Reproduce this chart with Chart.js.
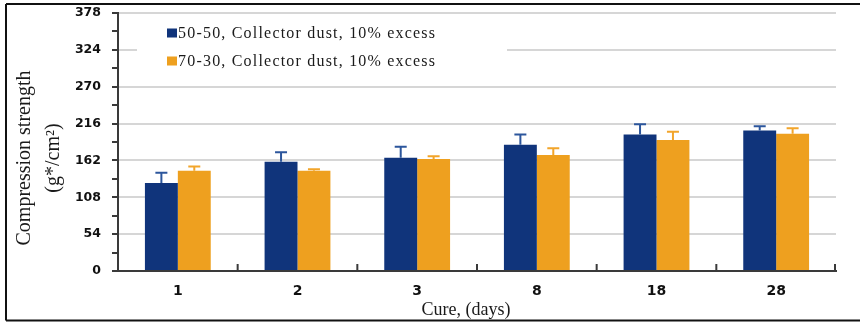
<!DOCTYPE html>
<html>
<head>
<meta charset="utf-8">
<script src="https://cdn.jsdelivr.net/npm/chart.js@4/dist/chart.umd.min.js"></script>
<style>
  html, body { margin: 0; padding: 0; background: #fff; }
  #wrap { width: 860px; height: 322px; }
</style>
</head>
<body>
<div id="wrap"><canvas id="c" width="860" height="322"></canvas></div>
<script>
// Curing time categories (days)
const cureDays = ['1', '2', '3', '8', '18', '28'];

// Series names
const seriesLabels = [
  '50-50, Collector dust, 10% excess',
  '70-30, Collector dust, 10% excess'
];

// Compression strength means and upper error (g*/cm²)
const strength5050 = [129, 160, 166, 185, 200, 206];
const error5050    = [15, 14, 16, 15, 15, 6];
const strength7030 = [147, 147, 164, 170, 192, 201];
const error7030    = [6, 2, 4, 10, 12, 8];

// Axis ticks
const yMajorTicks = [0, 54, 108, 162, 216, 270, 324, 378];
const yMinorStep = 27;

const axisTitleX = 'Cure, (days)';
const axisTitleY = ['Compression strength', '(g*/cm²)'];

const BLUE = '#10347b';
const ORANGE = '#eea01f';

// Page background and outer frame
const frame = {
  id: 'frame',
  beforeDraw(chart) {
    const ctx = chart.ctx;
    ctx.save();
    ctx.fillStyle = '#fff';
    ctx.fillRect(0, 0, chart.width, chart.height);
    ctx.restore();
  },
  afterDraw(chart) {
    const ctx = chart.ctx;
    ctx.save();
    ctx.strokeStyle = '#111';
    ctx.lineWidth = 2;
    ctx.beginPath();
    ctx.moveTo(6, 4); ctx.lineTo(chart.width, 4);
    ctx.moveTo(6, 4); ctx.lineTo(6, 320.5);
    ctx.moveTo(6, 320.5); ctx.lineTo(chart.width, 320.5);
    ctx.stroke();
    ctx.restore();
  }
};

// Upper error whiskers with caps
const errorBars = {
  id: 'errorBars',
  afterDatasetsDraw(chart) {
    const ctx = chart.ctx;
    const y = chart.scales.y;
    chart.data.datasets.forEach((ds, di) => {
      const meta = chart.getDatasetMeta(di);
      meta.data.forEach((bar, i) => {
        const top = y.getPixelForValue(ds.data[i] + ds.errors[i]);
        ctx.save();
        ctx.strokeStyle = ds.errorColor;
        ctx.lineWidth = 2;
        ctx.beginPath();
        ctx.moveTo(bar.x, bar.y);
        ctx.lineTo(bar.x, top);
        ctx.moveTo(bar.x - 6, top);
        ctx.lineTo(bar.x + 6, top);
        ctx.stroke();
        ctx.restore();
      });
    });
  }
};

// Short inward tick marks at category boundaries on the x axis
const xInnerTicks = {
  id: 'xInnerTicks',
  afterDatasetsDraw(chart) {
    const ctx = chart.ctx;
    const x = chart.scales.x;
    const bottom = chart.chartArea.bottom;
    const marks = [];
    for (let i = 1; i < cureDays.length; i++) {
      marks.push((x.getPixelForValue(i - 1) + x.getPixelForValue(i)) / 2);
    }
    marks.push(chart.chartArea.right - 1);
    ctx.save();
    ctx.strokeStyle = '#3a3a3a';
    ctx.lineWidth = 2;
    ctx.beginPath();
    marks.forEach(px => { ctx.moveTo(px, bottom); ctx.lineTo(px, bottom - 7); });
    ctx.stroke();
    ctx.restore();
  }
};

// Axis titles
const axisTitles = {
  id: 'axisTitles',
  afterDraw(chart) {
    const ctx = chart.ctx;
    const area = chart.chartArea;
    ctx.save();
    ctx.fillStyle = '#1a1a1a';
    ctx.font = '18px "Liberation Serif", "Times New Roman", serif';
    ctx.textAlign = 'center';
    ctx.textBaseline = 'alphabetic';
    ctx.fillText(axisTitleX, (area.left + area.right) / 2 - 11, 315);

    ctx.font = '20px "Liberation Serif", "Times New Roman", serif';
    const cy = (area.top + area.bottom) / 2 + 16;
    [[axisTitleY[0], 30], [axisTitleY[1], 59]].forEach(([t, bx]) => {
      ctx.save();
      ctx.translate(bx, cy);
      ctx.rotate(-Math.PI / 2);
      ctx.fillText(t, 0, 0);
      ctx.restore();
    });
    ctx.restore();
  }
};

// Legend panel over the upper plot area
const legendPanel = {
  id: 'legendPanel',
  afterDraw(chart) {
    const ctx = chart.ctx;
    const area = chart.chartArea;
    const left = area.left + 19;
    ctx.save();
    ctx.fillStyle = '#fff';
    ctx.fillRect(left, area.top + 8, 370, 58);
    ctx.font = '16px "Liberation Serif", "Times New Roman", serif';
    ctx.letterSpacing = '1.2px';
    ctx.textBaseline = 'middle';
    ctx.textAlign = 'left';
    chart.data.datasets.forEach((ds, i) => {
      const cy = area.top + 20 + i * 28;
      ctx.fillStyle = ds.backgroundColor;
      ctx.fillRect(left + 30, cy - 4.5, 10, 9);
      ctx.fillStyle = '#1a1a1a';
      ctx.fillText(ds.label, left + 41, cy + 1);
    });
    ctx.restore();
  }
};

new Chart(document.getElementById('c'), {
  type: 'bar',
  data: {
    labels: cureDays,
    datasets: [
      {
        label: seriesLabels[0],
        data: strength5050,
        errors: error5050,
        backgroundColor: BLUE,
        errorColor: '#2c569c',
        categoryPercentage: 0.55,
        barPercentage: 1.0
      },
      {
        label: seriesLabels[1],
        data: strength7030,
        errors: error7030,
        backgroundColor: ORANGE,
        errorColor: '#f2a52b',
        categoryPercentage: 0.55,
        barPercentage: 1.0
      }
    ]
  },
  options: {
    responsive: false,
    animation: false,
    events: [],
    layout: { padding: { left: 0, right: 24, top: 13, bottom: 0 } },
    plugins: {
      legend: { display: false },
      title: { display: false },
      tooltip: { enabled: false }
    },
    scales: {
      x: {
        grid: { display: false, drawTicks: false },
        border: { display: true, color: '#3a3a3a', width: 2 },
        ticks: {
          padding: 12,
          color: '#111',
          font: { family: '"DejaVu Sans", Verdana, sans-serif', size: 14, weight: 'bold' }
        },
        afterFit(scale) { scale.height = 51; scale.paddingLeft = 0; scale.paddingRight = 0; }
      },
      y: {
        min: 0,
        max: yMajorTicks[yMajorTicks.length - 1],
        afterBuildTicks(scale) {
          const ticks = [];
          for (let v = 0; v <= yMajorTicks[yMajorTicks.length - 1]; v += yMinorStep) {
            ticks.push({ value: v });
          }
          scale.ticks = ticks;
        },
        grid: {
          color: ctx => (ctx.tick && yMajorTicks.includes(ctx.tick.value)) ? '#d6d6d6' : 'rgba(0,0,0,0)',
          tickColor: '#3a3a3a',
          lineWidth: 2,
          tickLength: 6
        },
        border: { display: true, color: '#3a3a3a', width: 2 },
        ticks: {
          padding: 11,
          color: '#111',
          autoSkip: false,
          font: { family: '"DejaVu Sans", Verdana, sans-serif', size: 12.5, weight: 'bold' },
          callback: v => yMajorTicks.includes(v) ? String(v) : ''
        },
        afterFit(scale) { scale.width = 118; scale.paddingTop = 0; scale.paddingBottom = 0; }
      }
    }
  },
  plugins: [frame, errorBars, xInnerTicks, axisTitles, legendPanel]
});
</script>
</body>
</html>
